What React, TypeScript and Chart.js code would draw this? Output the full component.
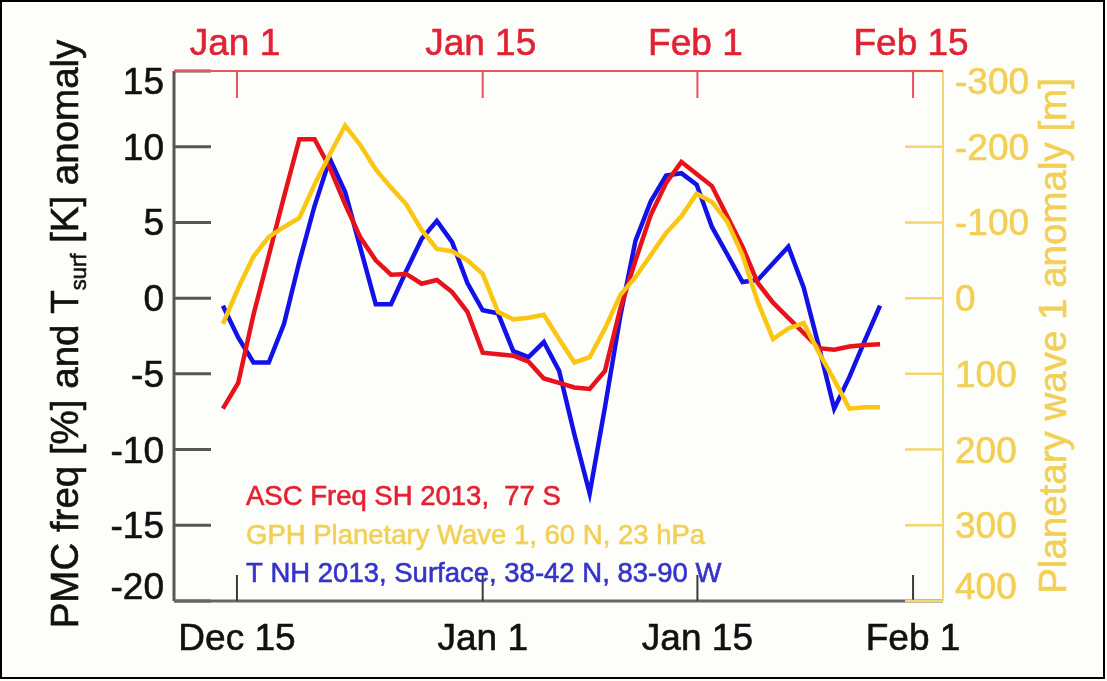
import React, { useEffect, useRef } from 'react';
import { Chart, registerables } from 'chart.js';

Chart.register(...registerables);

const W = 1107;
const H = 681;
const FONT = '"Liberation Sans", Arial, Helvetica, sans-serif';

// x positions: one point per day (index)
const DAY_INDEX = [
  0, 1, 2, 3, 4, 5, 6, 7, 8, 9, 10, 11, 12, 13, 14, 15, 16, 17, 18, 19, 20, 21,
  22, 23, 24, 25, 26, 27, 28, 29, 30, 31, 32, 33, 34, 35, 36, 37, 38, 39, 40, 41, 42, 43,
];

// ASC Freq SH 2013, 77 S  [%]  (left axis)
const ASC_FREQ = [
  -7.3, -5.6, -1.1, 2.8, 6.7, 10.5, 10.5, 8.6, 6.2, 4.0, 2.5, 1.55, 1.6, 0.95, 1.2, 0.4,
  -0.9, -3.6, -3.7, -3.8, -4.2, -5.3, -5.6, -5.9, -6.0, -4.8, -0.7, 2.5, 5.5, 7.6, 9.0,
  8.2, 7.4, 5.4, 3.4, 1.0, -0.3, -1.3, -2.3, -3.3, -3.4, -3.2, -3.1, -3.05,
];

// GPH Planetary Wave 1, 60 N, 23 hPa  [m]  (right axis, reversed)
const GPH_WAVE = [
  34, -13, -55, -81, -94, -106, -150, -190, -228, -202, -170, -146, -124, -90, -65, -62,
  -50, -32, 18, 28, 26, 22, 54, 85, 78, 40, -4, -28, -57, -86, -108, -138, -127, -101,
  -57, 5, 54, 40, 33, 72, 108, 146, 144, 144,
];

// T NH 2013, Surface, 38-42 N, 83-90 W  [K]  (left axis)
const T_SURF = [
  -0.5, -2.6, -4.25, -4.25, -1.7, 2.4, 6.1, 9.2, 7.0, 3.3, -0.4, -0.4, 1.8, 3.9, 5.1, 3.7,
  1.0, -0.8, -1.0, -3.5, -3.9, -2.9, -4.8, -9.0, -12.9, -7.2, -1.2, 3.8, 6.4, 8.1, 8.25,
  7.5, 4.7, 2.9, 1.06, 1.2, 2.3, 3.4, 0.7, -3.2, -7.3, -5.2, -2.8, -0.5,
];

const SERIES_LABELS = [
  'ASC Freq SH 2013,  77 S',
  'GPH Planetary Wave 1, 60 N, 23 hPa',
  'T NH 2013, Surface, 38-42 N, 83-90 W',
];

const X_MIN = -3.2;
const X_MAX = 47.12;
const DATE_TICK_POS = [0.92, 17.0, 31.05, 45.16];
const BOTTOM_TICK_LABELS = ['Dec 15', 'Jan 1', 'Jan 15', 'Feb 1'];
const TOP_TICK_LABELS = ['Jan 1', 'Jan 15', 'Feb 1', 'Feb 15'];
const LEFT_TICKS = [15, 10, 5, 0, -5, -10, -15, -20];
const RIGHT_TICKS = [-300, -200, -100, 0, 100, 200, 300, 400];

const LEFT_TITLE_MAIN = 'PMC freq [%] and T';
const LEFT_TITLE_SUB = 'surf';
const LEFT_TITLE_END = ' [K] anomaly';
const RIGHT_TITLE = 'Planetary wave 1 anomaly [m]';

const RED = 'rgb(232,18,28)';
const BLUE = 'rgb(18,18,232)';
const YELLOW = 'rgb(250,198,18)';
const RED_TEXT = 'rgb(226,34,52)';
const YELLOW_TEXT = 'rgb(242,208,86)';
const BLUE_TEXT = 'rgb(52,52,204)';

function seg(ctx: CanvasRenderingContext2D, x1: number, y1: number, x2: number, y2: number, color: string, w: number) {
  ctx.beginPath();
  ctx.strokeStyle = color;
  ctx.lineWidth = w;
  ctx.moveTo(x1, y1);
  ctx.lineTo(x2, y2);
  ctx.stroke();
}

function text(ctx: CanvasRenderingContext2D, s: string, x: number, y: number, color: string) {
  ctx.fillStyle = color;
  ctx.strokeStyle = color;
  ctx.lineWidth = 0.6;
  ctx.fillText(s, x, y);
  ctx.strokeText(s, x, y);
}

const clamp = (v: number, a: number, b: number) => Math.max(a, Math.min(b, v));

const bgPlugin = {
  id: 'bg',
  beforeDraw(chart: any) {
    const ctx = chart.ctx as CanvasRenderingContext2D;
    ctx.save();
    ctx.fillStyle = '#fdfdfa';
    ctx.fillRect(0, 0, chart.width, chart.height);
    ctx.restore();
  },
};

const axesPlugin = {
  id: 'customAxes',
  afterDatasetsDraw(chart: any) {
    const ctx = chart.ctx as CanvasRenderingContext2D;
    const { left, right, top, bottom } = chart.chartArea;
    const sx = chart.scales.x;
    const sx2 = chart.scales.x2;
    const sy = chart.scales.y;
    const sy2 = chart.scales.y2;
    ctx.save();
    ctx.lineCap = 'butt';

    // left axis
    seg(ctx, left, top, left, bottom, '#575757', 3);
    sy.ticks.forEach((t: any) => {
      const y = sy.getPixelForValue(t.value);
      seg(ctx, left, y, left + 37, y, '#575757', 3);
    });
    // bottom axis
    seg(ctx, left, bottom, right, bottom, '#666666', 3);
    sx.ticks.forEach((t: any) => {
      const x = sx.getPixelForValue(t.value);
      seg(ctx, x, bottom, x, bottom - 26, '#3a3a3a', 2);
    });
    // right axis
    seg(ctx, right, top, right, bottom, 'rgb(242,214,110)', 2);
    sy2.ticks.forEach((t: any) => {
      const y = sy2.getPixelForValue(t.value);
      seg(ctx, right - 38, y, right, y, 'rgb(242,214,110)', 2.5);
    });
    // top axis
    seg(ctx, left, top, right, top, 'rgb(232,84,96)', 2);
    sx2.ticks.forEach((t: any) => {
      const x = sx2.getPixelForValue(t.value);
      seg(ctx, x, top, x, top + 27, 'rgb(228,84,96)', 2);
    });

    // tick labels
    ctx.font = `37px ${FONT}`;
    ctx.textBaseline = 'alphabetic';
    ctx.textAlign = 'right';
    sy.ticks.forEach((t: any) => {
      const c = clamp(sy.getPixelForValue(t.value), top + 10, bottom - 15);
      text(ctx, String(t.value), left - 10, c + 13, '#111111');
    });
    ctx.textAlign = 'left';
    sy2.ticks.forEach((t: any) => {
      const c = clamp(sy2.getPixelForValue(t.value), top + 10, bottom - 15);
      text(ctx, String(t.value), right + 12, c + 13, YELLOW_TEXT);
    });
    ctx.textAlign = 'center';
    sx.ticks.forEach((t: any, i: number) => {
      text(ctx, BOTTOM_TICK_LABELS[i], sx.getPixelForValue(t.value), bottom + 49, '#111111');
    });
    sx2.ticks.forEach((t: any, i: number) => {
      text(ctx, TOP_TICK_LABELS[i], sx2.getPixelForValue(t.value) - 2, top - 16, RED_TEXT);
    });

    // axis titles (rotated)
    const drawRot = (cx: number, cy: number, parts: { text: string; font: string; dy: number }[], color: string) => {
      ctx.save();
      ctx.translate(cx, cy);
      ctx.rotate(-Math.PI / 2);
      ctx.textAlign = 'left';
      ctx.textBaseline = 'alphabetic';
      let total = 0;
      const widths = parts.map((p) => {
        ctx.font = p.font;
        const w = ctx.measureText(p.text).width;
        total += w;
        return w;
      });
      let x = -total / 2;
      parts.forEach((p, i) => {
        ctx.font = p.font;
        text(ctx, p.text, x, p.dy, color);
        x += widths[i];
      });
      ctx.restore();
    };
    drawRot(78, (top + bottom) / 2 - 2, [
      { text: LEFT_TITLE_MAIN, font: `38.5px ${FONT}`, dy: 0 },
      { text: LEFT_TITLE_SUB, font: `22px ${FONT}`, dy: 8 },
      { text: LEFT_TITLE_END, font: `38.5px ${FONT}`, dy: 0 },
    ], '#111111');
    drawRot(1066, (top + bottom) / 2, [{ text: RIGHT_TITLE, font: `38.5px ${FONT}`, dy: 0 }], YELLOW_TEXT);

    // in-plot legend text
    const legendColors = [RED_TEXT, YELLOW_TEXT, BLUE_TEXT];
    ctx.font = `27.5px ${FONT}`;
    ctx.textAlign = 'left';
    ctx.textBaseline = 'alphabetic';
    chart.data.datasets.forEach((ds: any, i: number) => {
      text(ctx, ds.label, 246, 505 + i * 38.5, legendColors[i]);
    });

    ctx.restore();
  },
};

export default function App() {
  const ref = useRef<HTMLCanvasElement>(null);

  useEffect(() => {
    document.body.style.margin = '0';
    const canvas = ref.current;
    if (!canvas) return;
    const toXY = (vals: number[]) => DAY_INDEX.map((d, i) => ({ x: d, y: vals[i] }));
    const common = { borderWidth: 4.5, pointRadius: 0, tension: 0, xAxisID: 'x' };
    const chart = new Chart(canvas, {
      type: 'line',
      data: {
        datasets: [
          { ...common, label: SERIES_LABELS[0], data: toXY(ASC_FREQ), borderColor: RED, yAxisID: 'y', order: 1 },
          { ...common, label: SERIES_LABELS[1], data: toXY(GPH_WAVE), borderColor: YELLOW, yAxisID: 'y2', order: 0 },
          { ...common, label: SERIES_LABELS[2], data: toXY(T_SURF), borderColor: BLUE, yAxisID: 'y', order: 2 },
        ],
      },
      options: {
        responsive: false,
        animation: false,
        devicePixelRatio: 1,
        layout: { padding: 0 },
        plugins: { legend: { display: false }, tooltip: { enabled: false }, title: { display: false } },
        scales: {
          x: {
            type: 'linear',
            position: 'bottom',
            min: X_MIN,
            max: X_MAX,
            grid: { display: false },
            border: { display: false },
            ticks: { display: false },
            afterBuildTicks: (s: any) => {
              s.ticks = DATE_TICK_POS.map((v) => ({ value: v }));
            },
            afterFit: (s: any) => {
              s.height = 80;
            },
          },
          x2: {
            type: 'linear',
            position: 'top',
            min: X_MIN,
            max: X_MAX,
            grid: { display: false },
            border: { display: false },
            ticks: { display: false },
            afterBuildTicks: (s: any) => {
              s.ticks = DATE_TICK_POS.map((v) => ({ value: v }));
            },
            afterFit: (s: any) => {
              s.height = 71;
            },
          },
          y: {
            type: 'linear',
            position: 'left',
            min: -20,
            max: 15,
            grid: { display: false },
            border: { display: false },
            ticks: { display: false },
            afterBuildTicks: (s: any) => {
              s.ticks = LEFT_TICKS.map((v) => ({ value: v }));
            },
            afterFit: (s: any) => {
              s.width = 174;
            },
          },
          y2: {
            type: 'linear',
            position: 'right',
            min: -300,
            max: 400,
            reverse: true,
            grid: { display: false },
            border: { display: false },
            ticks: { display: false },
            afterBuildTicks: (s: any) => {
              s.ticks = RIGHT_TICKS.map((v) => ({ value: v }));
            },
            afterFit: (s: any) => {
              s.width = W - 943;
            },
          },
        },
      },
      plugins: [bgPlugin, axesPlugin],
    } as any);
    return () => chart.destroy();
  }, []);

  return (
    <div style={{ position: 'relative', width: W, height: H }}>
      <canvas ref={ref} width={W} height={H} style={{ display: 'block', width: W, height: H }} />
      <div
        style={{
          position: 'absolute',
          left: 0,
          top: 0,
          width: 1105,
          height: 679,
          boxSizing: 'border-box',
          border: '2px solid #000',
          pointerEvents: 'none',
        }}
      />
    </div>
  );
}
